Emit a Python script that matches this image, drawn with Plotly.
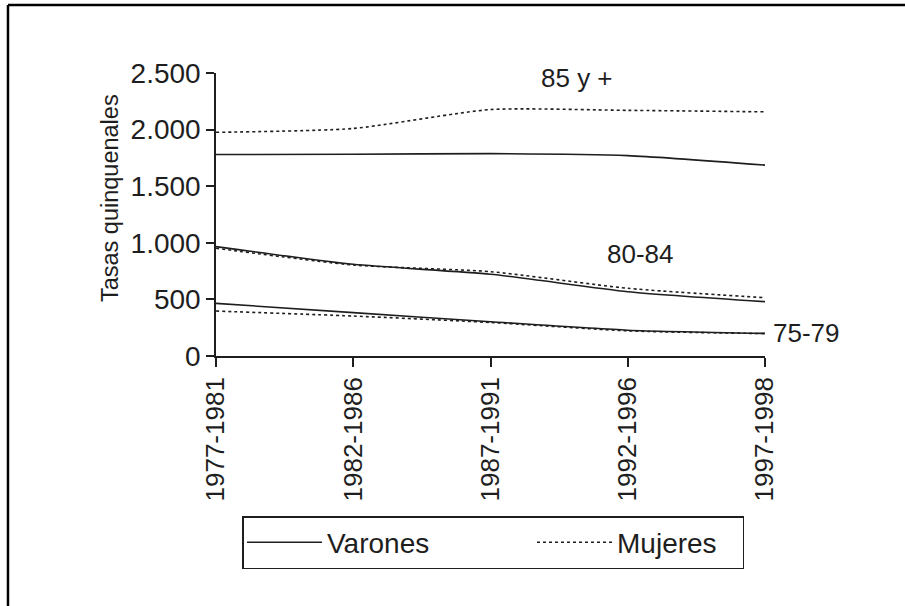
import plotly.graph_objects as go

periodos = ["1977-1981", "1982-1986", "1987-1991", "1992-1996", "1997-1998"]

# Tasas quinquenales por grupo de edad y sexo
v_85 = [1780, 1782, 1788, 1770, 1686]
m_85 = [1976, 2010, 2177, 2170, 2157]
v_80 = [966, 810, 722, 568, 480]
m_80 = [952, 804, 745, 598, 515]
v_75 = [465, 383, 303, 228, 200]
m_75 = [397, 353, 296, 222, 198]

grupos = ["85 y +", "80-84", "75-79"]
y_ticks = [0, 500, 1000, 1500, 2000, 2500]
y_ticktext = ["0", "500", "1.000", "1.500", "2.000", "2.500"]

INK = "#1e1e1e"
FONT = "Liberation Sans, Arial, sans-serif"

fig = go.Figure()

series = [(v_85, m_85), (v_80, m_80), (v_75, m_75)]
for i, (v, m) in enumerate(series):
    fig.add_trace(go.Scatter(
        x=periodos, y=v, mode="lines", name="Varones",
        legendgroup="v", showlegend=(i == 0), legendwidth=200,
        line=dict(color=INK, width=1.6, shape="spline", smoothing=0.6),
    ))
    fig.add_trace(go.Scatter(
        x=periodos, y=m, mode="lines", name="Mujeres",
        legendgroup="m", showlegend=(i == 0), legendwidth=120,
        line=dict(color=INK, width=1.6, dash="dot", shape="spline", smoothing=0.6),
    ))

# labels for the age groups
fig.add_annotation(x=2.63, y=2456, text=grupos[0], showarrow=False,
                   font=dict(size=26, color=INK, family=FONT))
fig.add_annotation(x=3.09, y=901, text=grupos[1], showarrow=False,
                   font=dict(size=26, color=INK, family=FONT))
fig.add_annotation(x=4, y=200, text=grupos[2], showarrow=False, xanchor="left",
                   xshift=6, font=dict(size=26, color=INK, family=FONT))

# y axis title
fig.add_annotation(xref="paper", yref="paper", x=-0.2204, y=0.558,
                   text="Tasas quinquenales", textangle=-90, showarrow=False,
                   font=dict(size=23.5, color=INK, family=FONT))

# outer frame of the scanned figure: only its top and left edges are in view
frame = dict(color="black", width=2.5)
fig.add_shape(type="line", xref="paper", yref="paper",
              x0=-0.3789, x1=-0.3789, y0=-1.3, y1=1.2403, line=frame, layer="below")
fig.add_shape(type="line", xref="paper", yref="paper",
              x0=-0.3789, x1=1.6, y0=1.2403, y1=1.2403, line=frame, layer="below")

fig.update_layout(
    width=905, height=606,
    margin=dict(l=216, r=140, t=73, b=250),
    paper_bgcolor="white", plot_bgcolor="white",
    font=dict(family=FONT, size=27, color=INK),
    showlegend=True,
    legend=dict(
        orientation="h", x=0.0474, y=-0.5654, xanchor="left", yanchor="top",
        bordercolor=INK, borderwidth=1.5, bgcolor="white",
        font=dict(size=28, color=INK, family=FONT),
        itemwidth=75, tracegroupgap=0,
    ),
    xaxis=dict(
        type="category", range=[0, 4], showgrid=False, zeroline=False,
        showline=True, linecolor=INK, linewidth=1.5,
        ticks="outside", ticklen=9, tickwidth=1.5, tickcolor=INK,
        tickangle=-90, tickfont=dict(size=26, color=INK, family=FONT),
    ),
    yaxis=dict(
        range=[0, 2500], showgrid=False, zeroline=False,
        showline=True, linecolor=INK, linewidth=1.5,
        ticks="outside", ticklen=8, tickwidth=1.5, tickcolor=INK,
        tickvals=y_ticks, ticktext=y_ticktext,
        tickfont=dict(size=28, color=INK, family=FONT),
    ),
)

fig.write_html("out.html", config={"displayModeBar": False},
               post_script="document.body.style.margin='0px';")
